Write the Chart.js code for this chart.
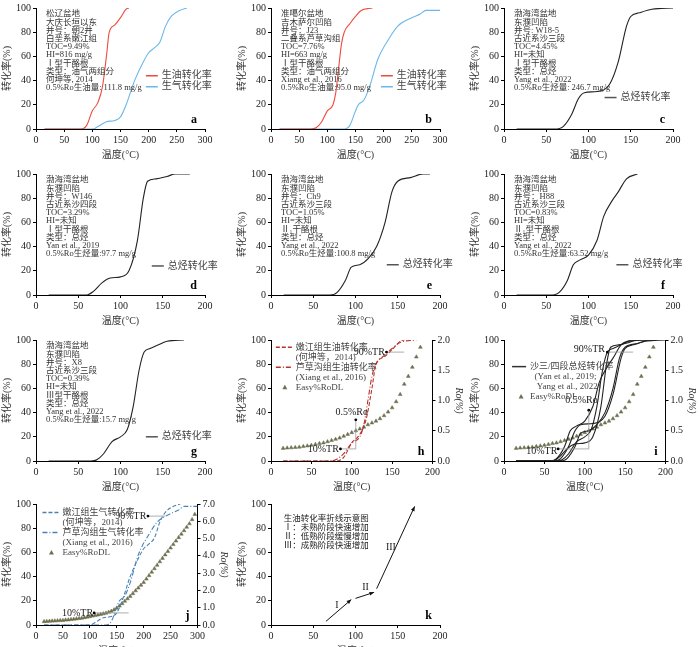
<!DOCTYPE html>
<html><head><meta charset="utf-8">
<script src="https://cdn.jsdelivr.net/npm/chart.js@4"></script>
<style>
body{margin:0;background:#fff;}
canvas{position:absolute;}
</style></head><body>
<canvas id="a" width="233" height="162" style="left:0;top:0"></canvas>
<canvas id="b" width="233" height="162" style="left:235px;top:0"></canvas>
<canvas id="c" width="233" height="162" style="left:468px;top:0"></canvas>
<canvas id="d" width="233" height="162" style="left:0;top:166px"></canvas>
<canvas id="e" width="233" height="162" style="left:235px;top:166px"></canvas>
<canvas id="f" width="233" height="162" style="left:468px;top:166px"></canvas>
<canvas id="g" width="233" height="162" style="left:0;top:332px"></canvas>
<canvas id="h" width="233" height="162" style="left:235px;top:332px"></canvas>
<canvas id="i" width="233" height="162" style="left:468px;top:332px"></canvas>
<canvas id="j" width="233" height="162" style="left:0;top:496px"></canvas>
<canvas id="k" width="233" height="162" style="left:235px;top:496px"></canvas>
<script>
// curves: [temperature, conversion %]
var oilA = [[15,0],[80,0],[90,3],[100,15],[110,22],[118,35],[125,60],[130,80],[140,86],[150,92],[160,99],[165,100]];
var gasA = [[15,0],[100,0],[110,2],[125,6],[140,7],[150,10],[160,20],[175,40],[190,55],[200,63],[210,67],[220,72],[230,85],[240,93],[255,98],[268,100]];
var oilB = [[15,0],[70,0],[80,1],[90,6],[100,15],[110,20],[115,30],[120,50],[125,70],[130,80],[140,87],[150,93],[160,98],[180,100]];
var gasB = [[15,0],[130,0],[140,3],[150,15],[155,20],[165,24],[175,35],[190,58],[210,75],[225,85],[250,92],[265,95],[275,98],[300,98]];
var totC = [[15,0],[60,0],[70,2],[80,12],[88,25],[95,30],[110,31],[125,37],[135,55],[145,85],[150,93],[160,96],[175,99],[200,100]];
var totD = [[15,0],[60,0],[68,3],[78,10],[88,14],[100,15],[110,20],[120,45],[127,80],[132,94],[142,96],[155,98],[165,100],[182,100]];
var totE = [[15,0],[70,0],[78,2],[88,12],[95,23],[105,25],[115,30],[125,40],[135,60],[143,85],[150,94],[165,97],[180,100],[188,100]];
var totF = [[15,0],[55,0],[65,2],[75,12],[82,25],[90,29],[100,33],[110,45],[118,65],[128,78],[135,85],[145,96],[158,100]];
var totG = [[15,0],[65,0],[72,1],[80,6],[90,16],[100,20],[108,26],[115,45],[122,75],[128,90],[135,93],[145,96],[155,99],[175,100]];
// Easy%RoDL
var roT1 = [15,20,25,30,35,40,45,50,55,60,65,70,75,80,85,90,95,100,105,110,115,120,125,130,135,140,145,150,155,160,165,170,175,180,185];
var roV1 = [0.21,0.215,0.22,0.225,0.23,0.24,0.25,0.26,0.275,0.29,0.30,0.32,0.34,0.36,0.38,0.41,0.44,0.47,0.50,0.53,0.56,0.60,0.63,0.66,0.70,0.75,0.81,0.88,0.98,1.10,1.27,1.40,1.55,1.72,1.88];
var roT2 = [15,20,25,30,35,40,45,50,55,60,65,70,75,80,85,90,95,100,105,110,115,120,125,130,135,140,145,150,155,160,165,170,175,180,185,190,195,200,205,210,215,220,225,230,235,240,245,250,255,260,265,270,275,280,285,290,295];
var roV2 = [0.20,0.21,0.22,0.23,0.24,0.25,0.26,0.27,0.29,0.30,0.32,0.34,0.36,0.38,0.40,0.43,0.46,0.49,0.52,0.55,0.58,0.62,0.65,0.69,0.74,0.80,0.88,0.98,1.10,1.24,1.38,1.52,1.66,1.82,1.98,2.14,2.30,2.46,2.66,2.86,3.06,3.26,3.46,3.66,3.86,4.06,4.26,4.46,4.66,4.86,5.06,5.26,5.46,5.66,5.86,6.10,6.40];
// sketch k segments
var segI = [[65,3],[95,21]], segII = [[100,22],[122,27]], segIII = [[125,30],[170,98]];

var CJK = "'Liberation Serif','Noto Sans CJK SC'";
function pts(a){ return a.map(function(p){ return {x:p[0], y:p[1]}; }); }
function ro(t, v){ return t.map(function(x, n){ return {x:x, y:v[n]}; }); }
function curve(a, color, dash, w){
  return {data:pts(a), borderColor:color, borderWidth:w||1.1, borderDash:dash||[], pointRadius:0, cubicInterpolationMode:'monotone', fill:false};
}
function tri(data){
  return {data:data, yAxisID:'y2', showLine:false, pointStyle:'triangle', pointRadius:2.2, pointBackgroundColor:'#6f7050', pointBorderColor:'#6f7050', pointBorderWidth:0.5};
}

var deco = {
  id:'deco',
  afterDatasetsDraw: function(chart, args, o){
    var ctx = chart.ctx, ca = chart.chartArea, sx = chart.scales.x, sy = chart.scales.y;
    ctx.save();
    (o.lines||[]).forEach(function(l){
      ctx.strokeStyle = l.color||'#999'; ctx.lineWidth = l.w||0.8; ctx.beginPath();
      l.pts.forEach(function(p, n){ var X = sx.getPixelForValue(p[0]), Y = sy.getPixelForValue(p[1]); n ? ctx.lineTo(X, Y) : ctx.moveTo(X, Y); });
      ctx.stroke();
      var p1 = l.pts[l.pts.length-2], p2 = l.pts[l.pts.length-1];
      var x2 = sx.getPixelForValue(p2[0]), y2 = sy.getPixelForValue(p2[1]);
      if (l.arrow) {
        var x1 = sx.getPixelForValue(p1[0]), y1 = sy.getPixelForValue(p1[1]);
        var an = Math.atan2(y2-y1, x2-x1);
        ctx.fillStyle = l.color; ctx.beginPath(); ctx.moveTo(x2, y2);
        ctx.lineTo(x2-5*Math.cos(an-0.4), y2-5*Math.sin(an-0.4)); ctx.lineTo(x2-5*Math.cos(an+0.4), y2-5*Math.sin(an+0.4)); ctx.fill();
      }
      if (l.dot) { ctx.fillStyle = '#000'; ctx.beginPath(); ctx.arc(x2, y2, 1.4, 0, 7); ctx.fill(); }
    });
    ctx.fillStyle = '#333'; ctx.textBaseline = 'top'; ctx.textAlign = 'left';
    ctx.font = '8.5px ' + CJK;
    (o.notes||[]).forEach(function(t, n){ ctx.fillText(t, ca.left + 10, ca.top + 2 + n*8.2); });
    (o.texts||[]).forEach(function(t){
      ctx.font = (t.size||10) + 'px ' + CJK; ctx.fillStyle = '#222'; ctx.textAlign = t.align||'left'; ctx.textBaseline = 'middle';
      ctx.fillText(t.t, sx.getPixelForValue(t.x), sy.getPixelForValue(t.y));
    });
    if (o.legend) {
      var lx = sx.getPixelForValue(o.legend.x), ly = sy.getPixelForValue(o.legend.y), fs = o.legend.size||10;
      ctx.textAlign = 'left'; ctx.textBaseline = 'middle';
      o.legend.items.forEach(function(it){
        ctx.font = fs + 'px ' + CJK; ctx.fillStyle = '#444';
        if (it.tri) {
          ctx.fillStyle = '#6f7050'; ctx.beginPath(); ctx.moveTo(lx+9, ly-2.5); ctx.lineTo(lx+11.5, ly+2); ctx.lineTo(lx+6.5, ly+2); ctx.fill();
        } else {
          ctx.strokeStyle = it.color; ctx.lineWidth = it.w||1.5; ctx.setLineDash(it.dash||[]);
          ctx.beginPath(); ctx.moveTo(lx, ly); ctx.lineTo(lx + (o.legend.len||12), ly); ctx.stroke(); ctx.setLineDash([]);
        }
        ctx.fillStyle = '#444'; ctx.fillText(it.label, lx + (o.legend.len||12) + 4, ly);
        ly += fs + 1;
        (it.sub||[]).forEach(function(s){ ctx.fillText(s, lx + (o.legend.len||12) + 4, ly); ly += fs + 1; });
      });
    }
    if (o.tag) {
      ctx.font = 'bold 12px Liberation Serif'; ctx.fillStyle = '#000'; ctx.textAlign = 'right'; ctx.textBaseline = 'bottom';
      ctx.fillText(o.tag, ca.right - 8, ca.bottom - 3);
    }
    ctx.restore();
  }
};
Chart.register(deco);

function axis(max, step, title, pos){
  return {type:'linear', position:pos, min:0, max:max,
    ticks:{stepSize:step, color:'#222', font:{family:'Liberation Serif', size:10}, padding:2},
    grid:{drawOnChartArea:false, tickLength:3, color:'#000'}, border:{color:'#000', width:1},
    title:{display:true, text:title, color:'#333', font:{family:CJK, size:10}, padding:{top:1, bottom:1}}};
}
function panel(id, xmax, datasets, d, y2){
  var scales = {x:axis(xmax, 50, '温度(°C)', 'bottom'), y:axis(100, 20, '转化率(%)', 'left')};
  if (y2) {
    scales.y2 = axis(y2.max, y2.step, 'Ro(%)', 'right');
    scales.y2.ticks.callback = function(v){ return v.toFixed(1); };
    scales.y2.title.font = {family:'Liberation Serif', size:10, style:'italic'};
  }
  new Chart(document.getElementById(id), {
    type:'line', data:{datasets:datasets},
    options:{animation:false, responsive:false, layout:{padding:{right:y2 ? 2 : 28, top:5}},
      plugins:{legend:{display:false}, tooltip:{enabled:false}, deco:d}, scales:scales}
  });
}

var RED = '#ee4b3e', BLUE = '#6bb8ea', BLK = '#222';
panel('a', 300, [curve(oilA, RED), curve(gasA, BLUE)], {tag:'a',
  notes:['松辽盆地','大庆长垣以东','井号：朝2井','白垩系嫩江组','TOC=9.49%','HI=816 mg/g','Ⅰ型干酪根','类型：油气两组分','何坤等, 2014','0.5%Ro生油量: 111.8 mg/g'],
  legend:{x:195, y:44, items:[{label:'生油转化率', color:RED}, {label:'生气转化率', color:BLUE}]}});
panel('b', 300, [curve(oilB, RED), curve(gasB, BLUE)], {tag:'b',
  notes:['准噶尔盆地','吉木萨尔凹陷','井号：J23','二叠系芦草沟组','TOC=7.76%','HI=663 mg/g','Ⅰ型干酪根','类型：油气两组分','Xiang et al., 2016','0.5%Ro生油量:95.0 mg/g'],
  legend:{x:195, y:44, items:[{label:'生油转化率', color:RED}, {label:'生气转化率', color:BLUE}]}});
panel('c', 200, [curve(totC, BLK)], {tag:'c',
  notes:['渤海湾盆地','东濮凹陷','井号: W18-5','古近系沙三段','TOC=4.45%','HI=未知','Ⅰ型干酪根','类型：总烃','Yang et al., 2022','0.5%Ro生烃量: 246.7 mg/g'],
  legend:{x:119, y:26, items:[{label:'总烃转化率', color:'#555'}]}});
panel('d', 200, [curve(totD, BLK)], {tag:'d',
  notes:['渤海湾盆地','东濮凹陷','井号：W146','古近系沙四段','TOC=3.29%','HI=未知','Ⅰ型干酪根','类型：总烃','Yan et al., 2019','0.5%Ro生烃量:97.7 mg/g'],
  legend:{x:137, y:24, items:[{label:'总烃转化率', color:'#555'}]}});
panel('e', 200, [curve(totE, BLK)], {tag:'e',
  notes:['渤海湾盆地','东濮凹陷','井号：Ch9','古近系沙三段','TOC=1.05%','HI=未知','Ⅱ₁干酪根','类型：总烃','Yang et al., 2022','0.5%Ro生烃量:100.8 mg/g'],
  legend:{x:137, y:25, items:[{label:'总烃转化率', color:'#555'}]}});
panel('f', 200, [curve(totF, BLK)], {tag:'f',
  notes:['渤海湾盆地','东濮凹陷','井号：H88','古近系沙三段','TOC=0.83%','HI=未知','Ⅱ₁型干酪根','类型：总烃','Yang et al., 2022','0.5%Ro生烃量:63.52 mg/g'],
  legend:{x:133, y:25, items:[{label:'总烃转化率', color:'#555'}]}});
panel('g', 200, [curve(totG, BLK)], {tag:'g',
  notes:['渤海湾盆地','东濮凹陷','井号：X8','古近系沙三段','TOC=0.39%','HI=未知','Ⅲ型干酪根','类型：总烃','Yang et al., 2022','0.5%Ro生烃量:15.7 mg/g'],
  legend:{x:130, y:20, items:[{label:'总烃转化率', color:'#555'}]}});

var DR = '#b8322c';
panel('h', 200, [curve(oilA, DR, [4,2]), curve(oilB, DR, [5,2,1,2]), tri(ro(roT1, roV1))], {tag:'h',
  lines:[{pts:[[105,10],[86,10]], dot:true}, {pts:[[105,10],[105,34]], dot:true}, {pts:[[165,90],[143,90]], dot:true}],
  texts:[{x:84, y:10, t:'10%TR', align:'right', size:10}, {x:100, y:40, t:'0.5%Ro', align:'center', size:10}, {x:141, y:90, t:'90%TR', align:'right', size:10}],
  legend:{x:6, y:94, size:9, len:16, items:[{label:'嫩江组生油转化率', color:DR, dash:[4,2], sub:['(何坤等，2014)']},
    {label:'芦草沟组生油转化率', color:DR, dash:[5,2,1,2], sub:['(Xiang et al., 2016)']}, {label:'Easy%RoDL', tri:true}]}},
  {max:2, step:0.5});
panel('i', 200, [curve(totC, BLK), curve(totD, BLK), curve(totE, BLK), curve(totF, BLK), curve(totG, BLK), tri(ro(roT1, roV1))], {tag:'i',
  lines:[{pts:[[105,10],[67,10]], dot:true}, {pts:[[105,10],[105,42]], dot:true}, {pts:[[160,90],[128,90]], dot:true}],
  texts:[{x:66, y:8, t:'10%TR', align:'right'}, {x:96, y:50, t:'0.5%Ro', align:'center'}, {x:125, y:92, t:'90%TR', align:'right'}],
  legend:{x:10, y:78, size:9, len:14, items:[{label:'沙三/四段总烃转化率', color:'#333', sub:['  (Yan et al., 2019;','   Yang et al., 2022)']}, {label:'Easy%RoDL', tri:true}]}},
  {max:2, step:0.5});
var SB = '#4a82b5';
panel('j', 300, [curve(gasA, SB, [4,2]), curve(gasB, SB, [5,2,1,2]), tri(ro(roT2, roV2))], {tag:'j',
  lines:[{pts:[[172,10],[108,10]], dot:true}, {pts:[[240,90],[208,90]], dot:true}],
  texts:[{x:106, y:10, t:'10%TR', align:'right'}, {x:205, y:90, t:'90%TR', align:'right'}],
  legend:{x:12, y:93, size:9, len:16, items:[{label:'嫩江组生气转化率', color:SB, dash:[4,2], sub:['(何坤等，2014)']},
    {label:'芦草沟组生气转化率', color:SB, dash:[5,2,1,2], sub:['(Xiang et al., 2016)']}, {label:'Easy%RoDL', tri:true}]}},
  {max:7, step:1});
panel('k', 200, [], {tag:'k',
  lines:[{pts:segI, color:'#111', w:1, arrow:true}, {pts:segII, color:'#111', w:1, arrow:true}, {pts:segIII, color:'#111', w:1, arrow:true}],
  texts:[{x:76, y:16, t:'I', size:10}, {x:108, y:31, t:'II', size:10}, {x:136, y:64, t:'III', size:10},
    {x:15, y:88, t:'生油转化率折线示意图', size:8.5}, {x:15, y:80.5, t:'Ⅰ：未熟阶段快速增加', size:8.5},
    {x:15, y:73, t:'Ⅱ：低熟阶段缓慢增加', size:8.5}, {x:15, y:65.5, t:'Ⅲ：成熟阶段快速增加', size:8.5}]});
</script>
</body></html>
